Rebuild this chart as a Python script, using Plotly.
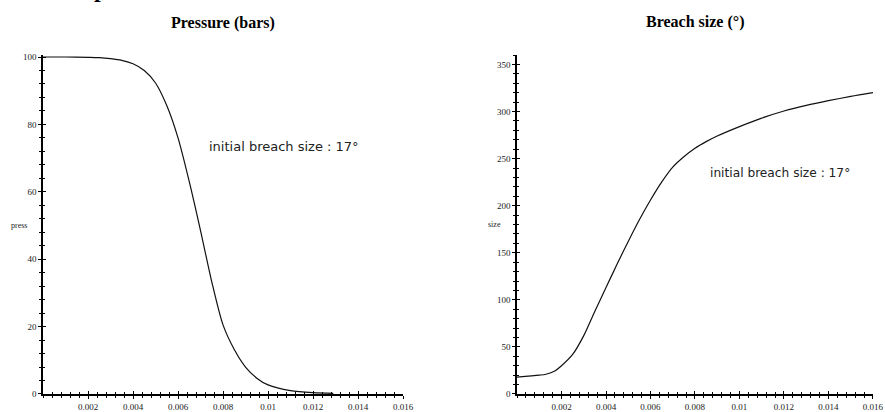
import plotly.graph_objects as go

# ---- data ----
t_press = [0, 0.001, 0.002, 0.0025, 0.003, 0.0035, 0.004, 0.0045, 0.005, 0.0055, 0.006,
           0.0065, 0.007, 0.0075, 0.008, 0.0085, 0.009, 0.0095, 0.010, 0.011, 0.012, 0.0129]
press = [100, 100, 99.9, 99.8, 99.5, 99.0, 98.0, 96.0, 92.3, 85.6, 76.0,
         63.0, 48.5, 33.3, 20.5, 13.2, 8.0, 4.7, 2.7, 1.0, 0.4, 0.2]

t_size = [0, 0.001, 0.0013, 0.0017, 0.002, 0.0025, 0.003, 0.0035, 0.004, 0.0045, 0.005,
          0.0055, 0.006, 0.0065, 0.007, 0.0075, 0.008, 0.0085, 0.009, 0.010, 0.011, 0.012,
          0.013, 0.014, 0.015, 0.016]
size = [18, 20, 21, 24.5, 30, 42, 62, 88, 113, 138, 162,
        185, 206, 225, 241, 252, 261, 268, 274, 284, 293, 300.5,
        306.5, 311.5, 316, 320]

x_ticks = [0.002, 0.004, 0.006, 0.008, 0.010, 0.012, 0.014, 0.016]
x_ticktext = ["0.002", "0.004", "0.006", "0.008", "0.01", "0.012", "0.014", "0.016"]
press_ticks = [0, 20, 40, 60, 80, 100]
size_ticks = [0, 50, 100, 150, 200, 250, 300, 350]

titles = ["Pressure (bars)", "Breach size (°)"]
note = "initial breach size : 17°"

# ---- figure ----
fig = go.Figure()
fig.add_trace(go.Scatter(x=t_press, y=press, mode="lines", xaxis="x", yaxis="y",
                         line=dict(color="#111", width=1.2, shape="spline", smoothing=0.8),
                         showlegend=False, hoverinfo="skip"))
fig.add_trace(go.Scatter(x=t_size, y=size, mode="lines", xaxis="x2", yaxis="y2",
                         line=dict(color="#111", width=1.2, shape="spline", smoothing=0.8),
                         showlegend=False, hoverinfo="skip"))
# dummy traces for overlay tick axes (ticks drawn on both sides of the axis lines)
fig.add_trace(go.Scatter(x=[None], y=[None], xaxis="x3", yaxis="y3", showlegend=False, hoverinfo="skip"))
fig.add_trace(go.Scatter(x=[None], y=[None], xaxis="x4", yaxis="y4", showlegend=False, hoverinfo="skip"))

tickfont = dict(family="Liberation Serif", size=9, color="#222")
ydom = [0.0437, 0.8665]
xdom1 = [0.0486, 0.4554]
xdom2 = [0.5842, 0.9864]


def xax(domain, anchor, labels=True, side_ticks="outside", overlay=None):
    d = dict(range=[0, 0.016], tickmode="array", tickvals=x_ticks, ticktext=x_ticktext,
             ticks=side_ticks, ticklen=3, tickwidth=1, tickcolor="black",
             showticklabels=labels, tickfont=tickfont, automargin=False,
             minor=dict(dtick=0.0004, tick0=0, ticks=side_ticks, ticklen=2,
                        tickcolor="black", tickwidth=1, showgrid=False),
             showgrid=False, zeroline=False, anchor=anchor, fixedrange=True)
    if overlay:
        d.update(overlaying=overlay, showline=False)
    else:
        d.update(domain=domain, showline=True, linecolor="black", linewidth=1.5)
    return d


def yax(rng, tickvals, mdt, anchor, labels=True, side_ticks="outside", overlay=None):
    d = dict(range=rng, tickmode="array", tickvals=tickvals,
             ticks=side_ticks, ticklen=3, tickwidth=1, tickcolor="black",
             showticklabels=labels, tickfont=tickfont, automargin=False,
             minor=dict(dtick=mdt, tick0=0, ticks=side_ticks, ticklen=2,
                        tickcolor="black", tickwidth=1, showgrid=False),
             showgrid=False, zeroline=False, anchor=anchor, fixedrange=True)
    if overlay:
        d.update(overlaying=overlay, showline=False)
    else:
        d.update(domain=ydom, showline=True, linecolor="black", linewidth=1.5)
    return d


def pa(text, px, py, size, family="Liberation Serif", color="#222", xa="center", ya="middle"):
    return dict(text=text, x=px / 885, y=(412 - py) / 412, xref="paper", yref="paper",
                xanchor=xa, yanchor=ya, showarrow=False,
                font=dict(family=family, size=size, color=color))


annotations = [
    pa("<b>" + titles[0] + "</b>", 223, 23, 16, color="black"),
    pa("<b>" + titles[1] + "</b>", 695, 22, 16, color="black"),
    pa("press", 19, 225, 8),
    pa("size", 495, 224, 8),
    pa("t", 222, 408, 9, ya="top"),
    pa("t", 695, 408, 9, ya="top"),
    pa("<b>p</b>", 100, 4, 24, color="black", ya="bottom"),
    dict(text=note, x=0.00729, y=73.5, xref="x", yref="y", xanchor="left", yanchor="middle",
         showarrow=False, font=dict(family="DejaVu Sans", size=13, color="#222")),
    dict(text=note, x=0.00858, y=235, xref="x2", yref="y2", xanchor="left", yanchor="middle",
         showarrow=False, font=dict(family="DejaVu Sans", size=12.2, color="#222")),
]

fig.update_layout(
    width=885, height=412, margin=dict(l=0, r=0, t=0, b=0, autoexpand=False),
    paper_bgcolor="white", plot_bgcolor="white",
    xaxis=xax(xdom1, "y"),
    yaxis=yax([0, 100.6], press_ticks, 4, "x"),
    xaxis2=xax(xdom2, "y2"),
    yaxis2=yax([0, 360], size_ticks, 10, "x2"),
    xaxis3=xax(None, "y", labels=False, side_ticks="inside", overlay="x"),
    yaxis3=yax([0, 100.6], press_ticks, 4, "x", labels=False, side_ticks="inside", overlay="y"),
    xaxis4=xax(None, "y2", labels=False, side_ticks="inside", overlay="x2"),
    yaxis4=yax([0, 360], size_ticks, 10, "x2", labels=False, side_ticks="inside", overlay="y2"),
    annotations=annotations,
    showlegend=False,
)

fig.write_html("out.html")
